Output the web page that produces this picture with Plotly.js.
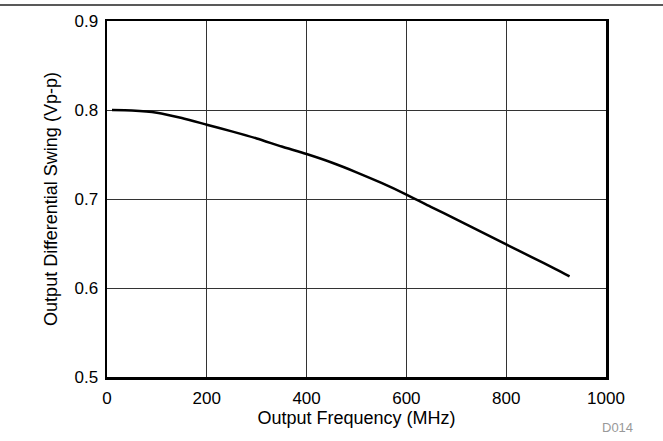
<!DOCTYPE html>
<html>
<head>
<meta charset="utf-8">
<script src="https://cdn.plot.ly/plotly-3.0.1.min.js"></script>
<style>html,body{margin:0;padding:0;background:#fff;}#chart{width:663px;height:441px;}</style>
</head>
<body>
<div id="chart"></div>
<script>
const freqMHz = [10, 50, 100, 150, 200, 250, 300, 350, 400, 450, 500, 550, 600, 650, 700, 750, 800, 850, 900, 927];
const swingVpp = [0.800, 0.7995, 0.797, 0.791, 0.7835, 0.776, 0.768, 0.759, 0.7505, 0.741, 0.730, 0.718, 0.705, 0.691, 0.677, 0.663, 0.649, 0.635, 0.621, 0.613];
const xTicks = [0, 200, 400, 600, 800, 1000];
const yTicks = [0.5, 0.6, 0.7, 0.8, 0.9];

const font = "Liberation Sans, Arial, sans-serif";
const trace = {
  x: freqMHz, y: swingVpp, type: 'scatter', mode: 'lines',
  line: {color: '#000', width: 2.5, shape: 'spline', smoothing: 0.6},
  hoverinfo: 'skip'
};
const layout = {
  width: 663, height: 441,
  margin: {l: 107, r: 57, t: 21, b: 64},
  paper_bgcolor: '#fff', plot_bgcolor: '#fff',
  showlegend: false,
  font: {family: font, size: 17, color: '#000'},
  xaxis: {
    range: [0, 1000], tickvals: xTicks, ticktext: xTicks.map(String),
    showgrid: true, gridcolor: '#333', gridwidth: 1,
    showline: true, linecolor: '#000', linewidth: 2.5, mirror: true,
    ticks: '', zeroline: false, tickfont: {size: 17}, ticklabelstandoff: 4,
    automargin: false,
    title: {text: 'Output Frequency (MHz)', font: {size: 18}, standoff: 2}
  },
  yaxis: {
    range: [0.5, 0.9], tickvals: yTicks, ticktext: yTicks.map(v => v.toFixed(1)),
    showgrid: true, gridcolor: '#333', gridwidth: 1,
    showline: true, linecolor: '#000', linewidth: 2.5, mirror: true,
    ticks: '', zeroline: false, tickfont: {size: 17}, ticklabelstandoff: 3,
    automargin: false,
    title: {text: 'Output Differential Swing (Vp-p)', font: {size: 18}, standoff: 12}
  },
  shapes: [{
    type: 'line', xref: 'paper', yref: 'paper',
    x0: -0.22, x1: 1.12, y0: 1.045, y1: 1.045,
    line: {color: '#222', width: 1.5}
  }],
  annotations: [{
    text: 'D014', xref: 'paper', yref: 'paper', x: 1.024, y: -0.141,
    xanchor: 'center', yanchor: 'middle', showarrow: false,
    font: {size: 13, color: '#999', family: font}
  }]
};
Plotly.newPlot('chart', [trace], layout, {displayModeBar: false, staticPlot: true});
</script>
</body>
</html>
